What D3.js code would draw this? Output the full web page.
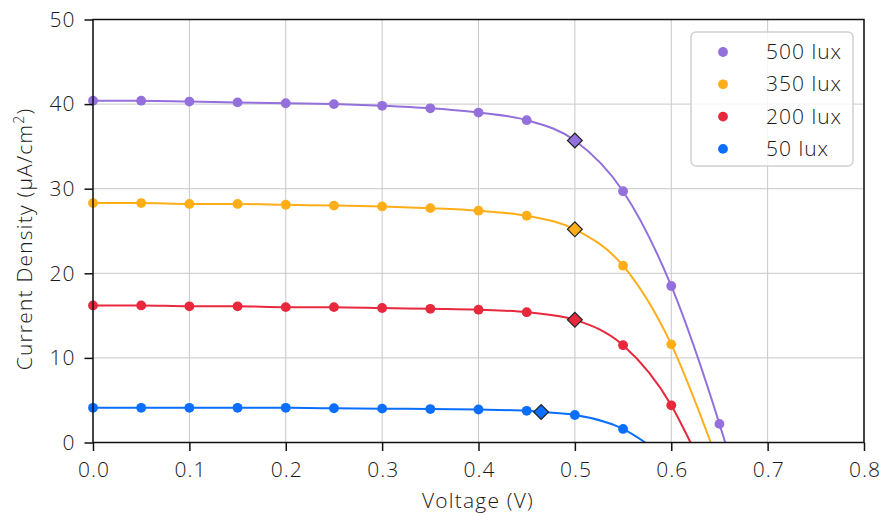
<!DOCTYPE html>
<html><head><meta charset="utf-8">
<script src="https://cdn.jsdelivr.net/npm/d3@7"></script>
<style>
body{margin:0;background:#fff;}
text{font-family:"Open Sans",sans-serif;font-weight:300;fill:#1a1a1a;letter-spacing:1px;}
</style></head>
<body><svg id="c" width="881" height="513"></svg>
<script>
const voltage = [0,0.05,0.1,0.15,0.2,0.25,0.3,0.35,0.4,0.45,0.5,0.55,0.6,0.65];
const series = ["500 lux","350 lux","200 lux","50 lux"];
const colors = ["#9370DB","#FFAE1A","#E8283C","#0A6EFF"];
const j500 = [40.4,40.4,40.3,40.2,40.1,40.0,39.8,39.5,39.0,38.1,null,29.7,18.5,2.2];
const j350 = [28.3,28.3,28.2,28.2,28.1,28.0,27.9,27.7,27.4,26.8,null,20.9,11.6,null];
const j200 = [16.2,16.2,16.1,16.1,16.0,16.0,15.9,15.8,15.7,15.4,null,11.5,4.4,null];
const j50  = [4.1,4.1,4.1,4.1,4.1,4.05,4.0,3.95,3.9,3.75,3.25,1.6,null,null];
const voc = [0.656,0.641,0.620,0.573];
const mppV = [0.5,0.5,0.5,0.465];
const mppJ = [35.7,25.2,14.5,3.6];
const xTicks = [0,0.1,0.2,0.3,0.4,0.5,0.6,0.7,0.8];
const yTicks = [0,10,20,30,40,50];
const allJ = [j500,j350,j200,j50];

const svg = d3.select("#c");
const m = {l:93,r:17,t:19.5,b:70.5};
const W = 881, H = 513;
const x = d3.scaleLinear().domain([0,0.8]).range([m.l, W-m.r]);
const y = d3.scaleLinear().domain([0,50]).range([H-m.b, m.t]);

// grid
const g = svg.append("g");
g.selectAll(".gx").data(xTicks).join("line").attr("x1",d=>x(d)).attr("x2",d=>x(d))
 .attr("y1",y(0)).attr("y2",y(50)).attr("stroke","#c8c8c8").attr("stroke-width",1);
g.selectAll(".gy").data(yTicks).join("line").attr("y1",d=>y(d)).attr("y2",d=>y(d))
 .attr("x1",x(0)).attr("x2",x(0.8)).attr("stroke","#c8c8c8").attr("stroke-width",1);

svg.append("defs").append("clipPath").attr("id","clip").append("rect")
 .attr("x",x(0)).attr("y",y(50)).attr("width",x(0.8)-x(0)).attr("height",y(0)-y(50));

const line = d3.line().x(d=>x(d[0])).y(d=>y(d[1])).curve(d3.curveMonotoneX);
const plot = svg.append("g").attr("clip-path","url(#clip)");
allJ.forEach((arr,i)=>{
  let pts = voltage.map((v,k)=>[v,arr[k]]).filter(p=>p[1]!=null);
  pts.push([mppV[i],mppJ[i]]);
  pts.push([voc[i],0]);
  pts.sort((a,b)=>a[0]-b[0]);
  plot.append("path").attr("d",line(pts)).attr("fill","none").attr("stroke",colors[i]).attr("stroke-width",2);
});
const mk = svg.append("g");
allJ.forEach((arr,i)=>{
  const pts = voltage.map((v,k)=>[v,arr[k]]).filter(p=>p[1]!=null);
  mk.selectAll(null).data(pts).join("circle").attr("cx",d=>x(d[0])).attr("cy",d=>y(d[1]))
    .attr("r",4.9).attr("fill",colors[i]);
});
allJ.forEach((arr,i)=>{
  mk.append("path").attr("d",d3.symbol(d3.symbolSquare,110)())
   .attr("transform",`translate(${x(mppV[i])},${y(mppJ[i])}) rotate(45)`)
   .attr("fill",colors[i]).attr("stroke","#222").attr("stroke-width",1.2);
});

// axes
const xa = svg.append("g").attr("transform",`translate(0,${y(0)})`)
 .call(d3.axisBottom(x).tickValues(xTicks).tickFormat(d3.format(".1f")).tickSize(8.5));
xa.selectAll("text").attr("y",34.5).attr("dy",0).attr("dx",0.5);
const ya = svg.append("g").attr("transform",`translate(${x(0)},0)`)
 .call(d3.axisLeft(y).tickValues(yTicks).tickSize(8.5).tickPadding(10));
[xa,ya].forEach(a=>{a.select(".domain").remove();a.selectAll("line").attr("stroke","#111").attr("stroke-width",1.5);
 a.selectAll("text").attr("font-size",21).attr("fill","#1a1a1a").attr("font-family",null);});
ya.selectAll("text").attr("dx",1);
svg.append("rect").attr("x",x(0)).attr("y",y(50)).attr("width",x(0.8)-x(0)).attr("height",y(0)-y(50))
 .attr("fill","none").attr("stroke","#111").attr("stroke-width",1.5);

svg.append("text").attr("x",478).attr("y",508).attr("text-anchor","middle")
 .attr("font-size",21).style("letter-spacing","1.2px").text("Voltage (V)");
const yl = svg.append("text").attr("transform",`translate(31.5,239) rotate(-90)`)
 .attr("text-anchor","middle").attr("font-size",21).style("letter-spacing","1.2px");
yl.append("tspan").text("Current Density (μA/cm");
yl.append("tspan").attr("dy",-8).attr("font-size",14).text("2");
yl.append("tspan").attr("dy",8).text(")");

// legend
const lg = svg.append("g");
lg.append("rect").attr("x",691).attr("y",32).attr("width",162).attr("height",134).attr("rx",5)
 .attr("fill","rgba(255,255,255,0.8)").attr("stroke","#d0d0d0").attr("stroke-width",1.5);
series.forEach((s,i)=>{
  const yy = 52 + i*32.3;
  lg.append("circle").attr("cx",723).attr("cy",yy).attr("r",4.9).attr("fill",colors[i]);
  lg.append("text").attr("x",766).attr("y",yy).attr("dy","0.34em").attr("font-size",21).text(s);
});
</script></body></html>
